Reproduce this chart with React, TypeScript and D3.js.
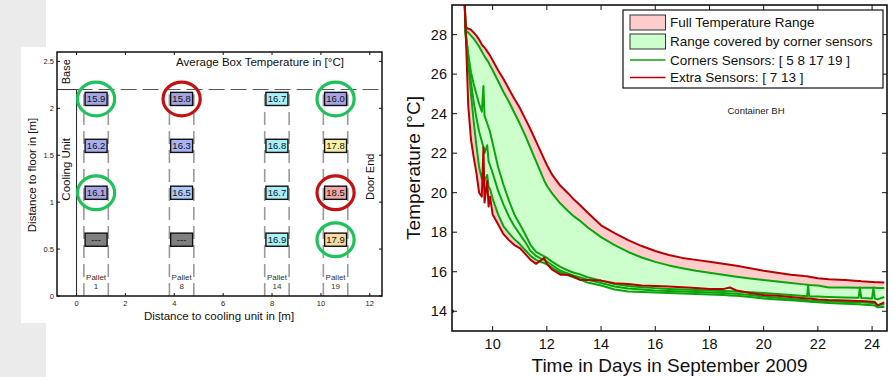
import * as d3 from "d3";
import React from "react";

// ---------- left panel: average box temperature per pallet ----------
const palletIds = [1, 8, 14, 19];
const palletCenters = [0.8, 4.3, 8.2, 10.6]; // m from cooling unit
const boxHeights = [2.1, 1.6, 1.1, 0.6]; // m above floor
const pallet1Temps = [15.9, 16.2, 16.1, null];
const pallet8Temps = [15.8, 16.3, 16.5, null];
const pallet14Temps = [16.7, 16.8, 16.7, 16.9];
const pallet19Temps = [16.0, 17.8, 18.5, 17.9];
// [pallet index, height index]
const cornerSensorSpots = [[0, 0], [0, 2], [3, 0], [3, 3]];
const extraSensorSpots = [[1, 0], [3, 2]];
const leftXTicks = [0, 2, 4, 6, 8, 10, 12];
const leftYTicks = [0, 0.5, 1, 1.5, 2, 2.5];

// ---------- right panel: temperature over time ----------
const days = [
  8.95, 9.0, 9.1, 9.2, 9.3, 9.4, 9.5, 9.6, 9.66, 9.7,
  9.8, 9.85, 9.9, 10.0, 10.2, 10.4, 10.6, 10.8, 11.0, 11.2,
  11.4, 11.6, 11.8, 11.9, 12.0, 12.2, 12.5, 12.8, 13.0, 13.2,
  13.5, 14.0, 14.5, 15.0, 15.5, 16.0, 16.5, 17.0, 17.5, 18.0,
  18.5, 18.75, 19.0, 19.5, 20.0, 20.5, 21.0, 21.5, 21.6, 21.64,
  21.68, 22.0, 22.4, 23.0, 23.5, 23.55, 23.6, 24.0, 24.05, 24.1,
  24.2, 24.45,
];
// corner sensors
const sensor19 = [
  30.5, 28.2, 28.1, 27.95, 27.8, 27.6, 27.4, 27.15, 27.0, 26.9,
  26.7, 26.6, 26.45, 26.2, 25.65, 25.1, 24.6, 24.05, 23.5, 22.9,
  22.25, 21.6, 20.95, 20.62, 20.35, 19.95, 19.45, 19.05, 18.8, 18.6,
  18.25, 17.75, 17.35, 17.0, 16.72, 16.5, 16.32, 16.18, 16.05, 15.95,
  15.85, 15.8, 15.75, 15.66, 15.58, 15.5, 15.43, 15.36, 15.34, 15.34,
  15.33, 15.3, 15.2, 15.2, 15.19, 15.19, 15.19, 15.19, 15.19, 15.19,
  15.18, 15.18,
];
const sensor5 = [
  30.5, 28.2, 27.0, 26.1, 25.5, 25.0, 24.5, 24.1, 25.4, 23.9,
  23.5, 23.3, 23.1, 22.5, 21.3, 20.4, 19.6, 18.9, 18.4, 17.9,
  17.35, 17.0, 16.85, 16.78, 16.7, 16.5, 16.25, 16.05, 15.95, 15.88,
  15.72, 15.55, 15.38, 15.28, 15.22, 15.17, 15.13, 15.1, 15.07, 15.05,
  15.02, 15.01, 15.0, 14.96, 14.92, 14.87, 14.82, 14.77, 14.76, 15.3,
  14.75, 14.74, 14.72, 14.7, 14.68, 15.2, 14.67, 14.65, 15.2, 14.64,
  14.6, 14.72,
];
const sensor17 = [
  30.5, 28.1, 26.9, 25.6, 24.6, 23.8, 23.1, 22.6, 22.3, 22.0,
  22.4, 21.6, 21.4, 21.0, 20.1, 19.4, 18.8, 18.3, 17.9, 17.5,
  17.05, 16.8, 16.65, 16.6, 16.52, 16.33, 16.05, 15.9, 15.8, 15.72,
  15.6, 15.43, 15.25, 15.15, 15.1, 15.05, 15.02, 15.0, 14.97, 14.95,
  14.92, 14.9, 14.88, 14.82, 14.75, 14.68, 14.62, 14.57, 14.56, 14.56,
  14.55, 14.52, 14.5, 14.47, 14.45, 14.45, 14.45, 14.42, 14.42, 14.41,
  14.3, 14.35,
];
const sensor8 = [
  30.5, 28.0, 26.6, 25.0, 23.6, 22.4, 21.3, 20.7, 21.2, 20.6,
  20.9, 20.3, 20.2, 19.7, 18.9, 18.3, 17.95, 17.65, 17.4, 17.1,
  16.8, 16.6, 16.48, 16.44, 16.38, 16.18, 15.95, 15.8, 15.7, 15.62,
  15.45, 15.3, 15.1, 15.0, 14.97, 14.95, 14.92, 14.9, 14.87, 14.85,
  14.82, 14.8, 14.78, 14.72, 14.65, 14.6, 14.55, 14.5, 14.49, 14.49,
  14.48, 14.45, 14.42, 14.38, 14.35, 14.35, 14.34, 14.3, 14.3, 14.29,
  14.2, 14.22,
];
// extra sensors
const sensor13 = [
  30.5, 28.4, 28.3, 28.25, 28.1, 27.95, 27.75, 27.5, 27.4, 27.35,
  27.15, 27.05, 26.95, 26.7, 26.2, 25.75, 25.25, 24.75, 24.3, 23.75,
  23.2, 22.6, 22.0, 21.7, 21.4, 20.9, 20.35, 19.95, 19.65, 19.4,
  19.0, 18.35, 17.95, 17.6, 17.3, 17.05, 16.85, 16.7, 16.6, 16.5,
  16.4, 16.35, 16.3, 16.18, 16.05, 15.95, 15.85, 15.78, 15.77, 15.76,
  15.75, 15.67, 15.62, 15.58, 15.53, 15.53, 15.52, 15.48, 15.48, 15.47,
  15.47, 15.46,
];
const sensor7 = [
  30.5, 28.4, 24.4, 22.7, 21.8, 21.0, 20.0, 19.8, 22.3, 19.5,
  20.6, 19.3, 19.8, 18.9, 18.4, 17.9, 17.6, 17.35, 17.2, 16.9,
  16.6, 16.4, 16.6, 16.7, 16.4, 16.1, 15.85, 15.85, 15.75, 15.6,
  15.58, 15.55, 15.42, 15.38, 15.3, 15.28, 15.25, 15.22, 15.18, 15.12,
  15.12, 15.2, 15.05, 14.92, 14.82, 14.78, 14.72, 14.66, 14.65, 14.65,
  14.64, 14.6, 14.57, 14.55, 14.52, 14.52, 14.52, 14.48, 14.48, 14.47,
  14.3, 14.45,
];
const strayReading = [8.5, 14.0];
const rightXTicks = [10, 12, 14, 16, 18, 20, 22, 24];
const rightYTicks = [14, 16, 18, 20, 22, 24, 26, 28];
const legendLabels = [
  "Full Temperature Range",
  "Range covered by corner sensors",
  "Corners Sensors: [ 5 8 17 19 ]",
  "Extra Sensors: [ 7 13 ]",
];

const FONT = "'Liberation Sans', Arial, Helvetica, sans-serif";
const GREEN = "#0aa50a";
const RED = "#b80000";

const L = { left: 57, right: 382, top: 52, bottom: 296 };
const R = { left: 452, right: 887, top: 5, bottom: 331 };

export default function App() {
  const xL = d3.scaleLinear().domain([-0.8, 12.5]).range([L.left, L.right]);
  const yL = d3.scaleLinear().domain([0, 2.6]).range([L.bottom, L.top]);
  const xR = d3.scaleLinear().domain([8.5, 24.55]).range([R.left, R.right]);
  const yR = d3.scaleLinear().domain([13, 29.5]).range([R.bottom, R.top]);

  const boxColor = d3
    .scaleLinear<string>()
    .domain([15.8, 16.1, 16.3, 16.5, 16.7, 16.9, 17.8, 17.9, 18.5])
    .range(["#a3a3e2", "#a6a6e6", "#a9b4f4", "#abc9f8", "#a8eef8", "#a8f2f8", "#f7efa6", "#f8dba2", "#eea8a8"]);

  const palletTemps = [pallet1Temps, pallet8Temps, pallet14Temps, pallet19Temps];
  const boxW = xL(0.9) - xL(0);
  const boxH = yL(0) - yL(0.14);
  const ringRx = xL(0.76) - xL(0);
  const ringRy = yL(0) - yL(0.18);

  const corners = [sensor5, sensor8, sensor17, sensor19];
  const extras = [sensor7, sensor13];
  const all = [...corners, ...extras];
  const fullRange = days.map((d, i) => ({ d, lo: d3.min(all, (s) => s[i])!, hi: d3.max(all, (s) => s[i])! }));
  const cornerRange = days.map((d, i) => ({ d, lo: d3.min(corners, (s) => s[i])!, hi: d3.max(corners, (s) => s[i])! }));

  const area = d3
    .area<{ d: number; lo: number; hi: number }>()
    .x((p) => xR(p.d))
    .y0((p) => yR(p.lo))
    .y1((p) => yR(p.hi));
  const line = d3
    .line<number>()
    .x((_, i) => xR(days[i]))
    .y((v) => yR(v));

  const legX = 623;
  const legY = 10;
  const legRows = [22.5, 41.5, 60, 77.5];

  return (
    <svg width={893} height={377} style={{ position: "absolute", left: 0, top: 0, fontFamily: FONT }}>
      <defs>
        <clipPath id="plotClip">
          <rect x={R.left} y={R.top} width={R.right - R.left} height={R.bottom - R.top} />
        </clipPath>
      </defs>
      <rect width={893} height={377} fill="#fff" />
      <rect x={0} y={0} width={46} height={377} fill="#ebebeb" />
      <rect x={21} y={47} width={25} height={276} fill="#fff" />

      {/* ---------- left panel ---------- */}
      <g>
        {/* pallet outlines */}
        {palletCenters.map((c, i) => (
          <g key={"pl" + i}>
            {[c - 0.5, c + 0.5].map((x, j) => (
              <line key={j} x1={xL(x)} x2={xL(x)} y1={yL(0)} y2={yL(2.15)} stroke="#9a9a9a" strokeWidth={1.6} strokeDasharray="13 6" />
            ))}
            <text x={xL(c)} y={yL(0.17)} fontSize={8} textAnchor="middle" fill="#333">Pallet</text>
            <text x={xL(c)} y={yL(0.07)} fontSize={8} textAnchor="middle" fill="#333">{palletIds[i]}</text>
          </g>
        ))}
        {/* base line and cooling unit wall */}
        <line x1={xL(-0.8)} x2={xL(0)} y1={yL(2.2)} y2={yL(2.2)} stroke="#333" strokeWidth={1} />
        <line x1={xL(0)} x2={xL(12.5)} y1={yL(2.2)} y2={yL(2.2)} stroke="#555" strokeWidth={1} strokeDasharray="16 6" />
        <line x1={xL(0)} x2={xL(0)} y1={yL(0)} y2={yL(2.2)} stroke="#222" strokeWidth={1} />

        {/* temperature boxes */}
        {palletTemps.map((temps, i) =>
          temps.map((t, j) => (
            <g key={`b${i}-${j}`}>
              <rect
                x={xL(palletCenters[i]) - boxW / 2}
                y={yL(boxHeights[j]) - boxH / 2}
                width={boxW}
                height={boxH}
                fill={t == null ? "#808080" : boxColor(t)}
                stroke="#111"
                strokeWidth={1.4}
              />
              <text x={xL(palletCenters[i])} y={yL(boxHeights[j]) + 3.4} fontSize={9.5} textAnchor="middle" fill="#111">
                {t == null ? "---" : t.toFixed(1)}
              </text>
            </g>
          ))
        )}
        {/* sensor rings */}
        {cornerSensorSpots.map(([p, h], k) => (
          <ellipse key={"c" + k} cx={xL(palletCenters[p])} cy={yL(boxHeights[h])} rx={ringRx} ry={ringRy} fill="none" stroke="#1ec25a" strokeWidth={3.2} />
        ))}
        {extraSensorSpots.map(([p, h], k) => (
          <ellipse key={"e" + k} cx={xL(palletCenters[p])} cy={yL(boxHeights[h])} rx={ringRx} ry={ringRy} fill="none" stroke="#c41010" strokeWidth={3.2} />
        ))}

        {/* frame and ticks */}
        <rect x={L.left} y={L.top} width={L.right - L.left} height={L.bottom - L.top} fill="none" stroke="#111" strokeWidth={1.5} />
        {leftXTicks.map((t) => (
          <g key={"lx" + t}>
            <line x1={xL(t)} x2={xL(t)} y1={L.bottom} y2={L.bottom - 3} stroke="#111" />
            <line x1={xL(t)} x2={xL(t)} y1={L.top} y2={L.top + 3} stroke="#111" />
            <text x={xL(t)} y={L.bottom + 10} fontSize={7.5} textAnchor="middle" fill="#222">{t}</text>
          </g>
        ))}
        {leftYTicks.map((t) => (
          <g key={"ly" + t}>
            <line x1={L.left} x2={L.left + 3} y1={yL(t)} y2={yL(t)} stroke="#111" />
            <line x1={L.right} x2={L.right - 3} y1={yL(t)} y2={yL(t)} stroke="#111" />
            <text x={L.left - 3} y={yL(t) + 2.7} fontSize={7.5} textAnchor="end" fill="#222">{t}</text>
          </g>
        ))}
        <text x={260} y={66} fontSize={11.5} textAnchor="middle" fill="#111">Average Box Temperature in [°C]</text>
        <text transform={`translate(${xL(-0.42)},${yL(2.39)}) rotate(-90)`} fontSize={11} textAnchor="middle" dominantBaseline="central" fill="#111">Base</text>
        <text transform={`translate(${xL(-0.42)},${yL(1.35)}) rotate(-90)`} fontSize={11.5} textAnchor="middle" dominantBaseline="central" fill="#111">Cooling Unit</text>
        <text transform={`translate(${xL(12.0)},${yL(1.27)}) rotate(-90)`} fontSize={11} textAnchor="middle" dominantBaseline="central" fill="#111">Door End</text>
        <text x={219} y={320} fontSize={11.5} textAnchor="middle" fill="#111">Distance to cooling unit in [m]</text>
        <text transform="translate(32,175) rotate(-90)" fontSize={11.5} textAnchor="middle" dominantBaseline="central" fill="#111">Distance to floor in [m]</text>
      </g>

      {/* ---------- right panel ---------- */}
      <g>
        <g clipPath="url(#plotClip)">
          <path d={area(fullRange)!} fill="#ffcccc" stroke="none" />
          <path d={area(cornerRange)!} fill="#ccffcc" stroke="none" />
          {corners.map((s, i) => (
            <path key={"g" + i} d={line(s)!} fill="none" stroke={GREEN} strokeWidth={2} strokeLinejoin="round" />
          ))}
          {extras.map((s, i) => (
            <path key={"r" + i} d={line(s)!} fill="none" stroke={RED} strokeWidth={2} strokeLinejoin="round" />
          ))}
          <circle cx={xR(strayReading[0])} cy={yR(strayReading[1])} r={2} fill={RED} />
        </g>
        <rect x={R.left} y={R.top} width={R.right - R.left} height={R.bottom - R.top} fill="none" stroke="#111" strokeWidth={1.6} />
        {rightXTicks.map((t) => (
          <g key={"rx" + t}>
            <line x1={xR(t)} x2={xR(t)} y1={R.bottom} y2={R.bottom - 5} stroke="#111" />
            <line x1={xR(t)} x2={xR(t)} y1={R.top} y2={R.top + 5} stroke="#111" />
            <text x={xR(t)} y={R.bottom + 18} fontSize={14.5} textAnchor="middle" fill="#111">{t}</text>
          </g>
        ))}
        {rightYTicks.map((t) => (
          <g key={"ry" + t}>
            <line x1={R.left} x2={R.left + 5} y1={yR(t)} y2={yR(t)} stroke="#111" />
            <line x1={R.right} x2={R.right - 5} y1={yR(t)} y2={yR(t)} stroke="#111" />
            <text x={R.left - 5} y={yR(t) + 5} fontSize={14.5} textAnchor="end" fill="#111">{t}</text>
          </g>
        ))}
        <text x={(R.left + R.right) / 2} y={372} fontSize={19} textAnchor="middle" fill="#111">Time in Days in September 2009</text>
        <text transform={`translate(413,${(R.top + R.bottom) / 2}) rotate(-90)`} fontSize={19} textAnchor="middle" dominantBaseline="central" fill="#111">Temperature [°C]</text>
        <text x={756} y={114} fontSize={9.5} textAnchor="middle" fill="#222">Container BH</text>

        {/* legend */}
        <rect x={legX} y={legY} width={260} height={78} fill="#fff" stroke="#111" strokeWidth={1.2} />
        <rect x={630} y={legRows[0] - 7.5} width={35.5} height={15} fill="#ffcccc" stroke="#333" />
        <rect x={630} y={legRows[1] - 7.5} width={35.5} height={15} fill="#ccffcc" stroke="#333" />
        <line x1={630} x2={665.5} y1={legRows[2]} y2={legRows[2]} stroke={GREEN} strokeWidth={1.6} />
        <line x1={630} x2={665.5} y1={legRows[3]} y2={legRows[3]} stroke={RED} strokeWidth={1.6} />
        {legendLabels.map((lab, i) => (
          <text key={lab} x={670} y={legRows[i] + 4.8} fontSize={13.5} fill="#111">{lab}</text>
        ))}
      </g>
    </svg>
  );
}
